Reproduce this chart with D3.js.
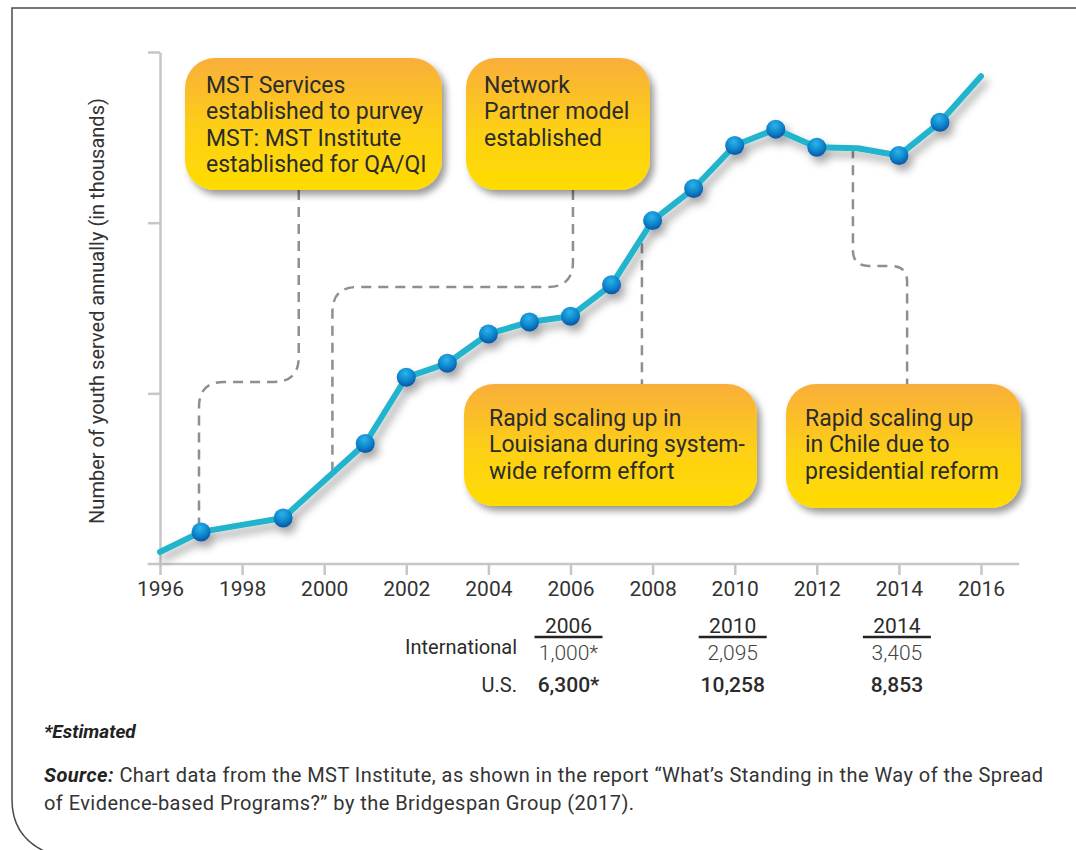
<!DOCTYPE html>
<html>
<head>
<meta charset="utf-8">
<script src="https://cdn.jsdelivr.net/npm/d3@7"></script>
<style>
  body { margin: 0; background: #fff; }
  svg { display: block; font-family: Roboto, "Liberation Sans", sans-serif; }
</style>
</head>
<body>
<script>
// youth served per year (thousands)
var years  = [1996, 1997, 1999, 2001, 2002, 2003, 2004, 2005, 2006, 2007, 2008, 2009, 2010, 2011, 2012, 2013, 2014, 2015, 2016];
var served = [0.35, 0.94, 1.35, 3.53, 5.47, 5.88, 6.74, 7.09, 7.26, 8.18, 10.06, 11.0, 12.26, 12.74, 12.21, 12.18, 11.97, 12.94, 14.29];
// which points carry a marker
var marked = [false, true, true, true, true, true, true, true, true, true, true, true, true, true, true, false, true, true, false];

var xTicks = [1996, 1998, 2000, 2002, 2004, 2006, 2008, 2010, 2012, 2014, 2016];
var yTicks = [5, 10, 15];

// callout texts
var noteTexts = [
  ["MST Services", "established to purvey", "MST: MST Institute", "established for QA/QI"],
  ["Network", "Partner model", "established"],
  ["Rapid scaling up in", "Louisiana during system-", "wide reform effort"],
  ["Rapid scaling up", "in Chile due to", "presidential reform"]
];

// table under the chart
var tableYears = [2006, 2010, 2014];
var intlValues = ["1,000*", "2,095", "3,405"];
var usValues   = ["6,300*", "10,258", "8,853"];

var w = 1076;
var h = 850;

// callout boxes and connector routes (layout only)
const boxes = [
  {x: 185, y: 58,  w: 257, h: 132},
  {x: 466, y: 58,  w: 184, h: 132},
  {x: 464, y: 384, w: 293, h: 122},
  {x: 786, y: 384, w: 235, h: 124}
];
const textLeft = [21, 18, 25, 19];
const textTop = [93, 93, 426, 426];
const lineGap = 26.4;

var svg = d3.select("body").append("svg")
            .attr("width", w)
            .attr("height", h);

var xScale = d3.scaleLinear().domain([1996, 2016]).range([160, 981]);
var yScale = d3.scaleLinear().domain([0, 15]).range([564, 52]);

var defs = svg.append("defs");

// orange to yellow fill for callouts
var grad = defs.append("linearGradient").attr("id", "noteFill")
               .attr("x1", 0).attr("y1", 0).attr("x2", 0).attr("y2", 1);
grad.append("stop").attr("offset", "0%").attr("stop-color", "#f9ae3b");
grad.append("stop").attr("offset", "55%").attr("stop-color", "#fdd015");
grad.append("stop").attr("offset", "100%").attr("stop-color", "#ffdc00");

// blue marker ball
var ball = defs.append("radialGradient").attr("id", "ball")
               .attr("cx", "45%").attr("cy", "30%").attr("r", "75%");
ball.append("stop").attr("offset", "0%").attr("stop-color", "#2fb2ea");
ball.append("stop").attr("offset", "55%").attr("stop-color", "#0b86cc");
ball.append("stop").attr("offset", "100%").attr("stop-color", "#08489c");

var shadow = defs.append("filter").attr("id", "shadow")
                 .attr("x", "-20%").attr("y", "-20%").attr("width", "150%").attr("height", "160%");
shadow.append("feDropShadow").attr("dx", 4).attr("dy", 6).attr("stdDeviation", 4)
      .attr("flood-color", "#000").attr("flood-opacity", 0.35);

var boxShadow = defs.append("filter").attr("id", "boxShadow")
                    .attr("x", "-10%").attr("y", "-10%").attr("width", "130%").attr("height", "140%");
boxShadow.append("feDropShadow").attr("dx", 4).attr("dy", 5).attr("stdDeviation", 3.5)
         .attr("flood-color", "#000").attr("flood-opacity", 0.4);

// page frame
svg.append("path")
   .attr("d", "M1076,8 H12 V800 C12,826 24,842 46,852")
   .attr("fill", "none")
   .attr("stroke", "#4a4a4a")
   .attr("stroke-width", 1.5);

// y axis
svg.append("g")
   .attr("transform", "translate(" + xScale(1996) + ",0)")
   .call(d3.axisLeft(yScale).tickValues(yTicks).tickSize(12).tickSizeOuter(0).tickFormat(""))
   .call(g => g.selectAll("path, line").attr("stroke", "#c6c6ca").attr("stroke-width", 2.5));

// x axis
var xAxisG = svg.append("g")
   .attr("transform", "translate(0," + yScale(0) + ")")
   .call(d3.axisBottom(xScale).tickValues(xTicks).tickSize(11).tickSizeOuter(0).tickFormat(d3.format("d")));
xAxisG.select(".domain").remove();
xAxisG.append("line")
      .attr("x1", xScale(1995.7)).attr("x2", xScale(2016.93))
      .attr("stroke", "#c6c6ca").attr("stroke-width", 2.5);
xAxisG.selectAll(".tick line").attr("stroke", "#c6c6ca").attr("stroke-width", 2.5);
xAxisG.selectAll(".tick text")
      .attr("y", 17)
      .attr("dy", "0.71em")
      .attr("fill", "#333")
      .attr("font-size", "21px")
      .attr("font-family", "Roboto, sans-serif");

// y axis label
svg.append("text")
   .attr("transform", "translate(104," + 311 + ") rotate(-90)")
   .attr("text-anchor", "middle")
   .attr("fill", "#333")
   .attr("font-size", "20px")
   .text("Number of youth served annually (in thousands)");

// dashed connectors from callouts to the line
var dash = svg.append("g")
              .attr("fill", "none")
              .attr("stroke", "#8e8e94")
              .attr("stroke-width", 2.5)
              .attr("stroke-dasharray", "10,7");

var r = 25;
var c1 = xScale(1996.95), c1b = xScale(1999.38);
dash.append("path").attr("d",
  "M" + c1b + "," + (boxes[0].y + boxes[0].h) + " V" + (382 - r) +
  " Q" + c1b + ",382 " + (c1b - r) + ",382 H" + (c1 + r) +
  " Q" + c1 + ",382 " + c1 + "," + (382 + r) + " V" + yScale(0.94));

var c2 = xScale(2000.2), c2b = xScale(2006.06);
dash.append("path").attr("d",
  "M" + c2b + "," + (boxes[1].y + boxes[1].h) + " V" + (287 - r) +
  " Q" + c2b + ",287 " + (c2b - r) + ",287 H" + (c2 + r) +
  " Q" + c2 + ",287 " + c2 + "," + (287 + r) + " V" + yScale(2.6));

var c3 = xScale(2007.74);
dash.append("path").attr("d", "M" + c3 + "," + yScale(9.4) + " V" + boxes[2].y);

var c4 = xScale(2012.88), c4b = xScale(2014.2), r2 = 16;
dash.append("path").attr("d",
  "M" + c4 + "," + yScale(12.18) + " V" + (266 - r2) +
  " Q" + c4 + ",266 " + (c4 + r2) + ",266 H" + (c4b - r2) +
  " Q" + c4b + ",266 " + c4b + "," + (266 + r2) + " V" + boxes[3].y);

// the series line
var pts = years.map(function(y, i) { return {year: y, v: served[i], m: marked[i]}; });

var line = d3.line()
             .x(function(d) { return xScale(d.year); })
             .y(function(d) { return yScale(d.v); });

var series = svg.append("g").attr("filter", "url(#shadow)");
series.append("path")
      .datum(pts)
      .attr("d", line)
      .attr("fill", "none")
      .attr("stroke", "#22b4cd")
      .attr("stroke-width", 6)
      .attr("stroke-linecap", "round")
      .attr("stroke-linejoin", "round");

series.selectAll("circle")
      .data(pts.filter(function(d) { return d.m; }))
      .enter()
      .append("circle")
      .attr("cx", function(d) { return xScale(d.year); })
      .attr("cy", function(d) { return yScale(d.v); })
      .attr("r", 9.5)
      .attr("fill", "url(#ball)");

// callouts
var notes = svg.selectAll(".note")
               .data(noteTexts)
               .enter()
               .append("g")
               .attr("class", "note");

notes.append("rect")
     .attr("x", function(d, i) { return boxes[i].x; })
     .attr("y", function(d, i) { return boxes[i].y; })
     .attr("width", function(d, i) { return boxes[i].w; })
     .attr("height", function(d, i) { return boxes[i].h; })
     .attr("rx", 30)
     .attr("fill", "url(#noteFill)")
     .attr("filter", "url(#boxShadow)");

notes.each(function(lines, i) {
  var t = d3.select(this).append("text")
            .attr("fill", "#2b2b2b")
            .attr("font-size", "23px");
  lines.forEach(function(s, j) {
    t.append("tspan")
     .attr("x", boxes[i].x + textLeft[i])
     .attr("y", textTop[i] + j * lineGap)
     .text(s);
  });
});

// table of international / U.S. figures
var table = svg.append("g").attr("fill", "#2b2b2b");

table.append("text").attr("x", 517).attr("y", 654).attr("text-anchor", "end")
     .attr("font-size", "20px").text("International");
table.append("text").attr("x", 517).attr("y", 692).attr("text-anchor", "end")
     .attr("font-size", "20px").text("U.S.");

var cols = table.selectAll(".col")
                .data(tableYears)
                .enter()
                .append("g")
                .attr("class", "col")
                .attr("transform", function(d) { return "translate(" + (xScale(d) - 2) + ",0)"; });

cols.append("text").attr("y", 633).attr("text-anchor", "middle")
    .attr("font-size", "21px").text(function(d) { return d; });
cols.append("line").attr("x1", -34).attr("x2", 34).attr("y1", 637).attr("y2", 637)
    .attr("stroke", "#222").attr("stroke-width", 2.5);
cols.append("text").attr("y", 660).attr("text-anchor", "middle")
    .attr("font-size", "21px").attr("fill", "#444").attr("font-weight", 300)
    .text(function(d, i) { return intlValues[i]; });
cols.append("text").attr("y", 692).attr("text-anchor", "middle")
    .attr("font-size", "21px").attr("font-weight", 500)
    .text(function(d, i) { return usValues[i]; });

// footnotes
svg.append("text").attr("x", 44).attr("y", 738)
   .attr("font-size", "19px").attr("font-weight", "bold").attr("font-style", "italic")
   .attr("fill", "#222").text("*Estimated");

var src = svg.append("text").attr("font-size", "20px").attr("letter-spacing", "0.45px").attr("fill", "#333");
var l1 = src.append("tspan").attr("x", 44).attr("y", 782);
l1.append("tspan").attr("font-weight", "bold").attr("font-style", "italic").attr("fill", "#222").text("Source:");
l1.append("tspan").text(" Chart data from the MST Institute, as shown in the report \u201cWhat\u2019s Standing in the Way of the Spread");
src.append("tspan").attr("x", 44).attr("y", 810)
   .text("of Evidence-based Programs?\u201d by the Bridgespan Group (2017).");
</script>
</body>
</html>
